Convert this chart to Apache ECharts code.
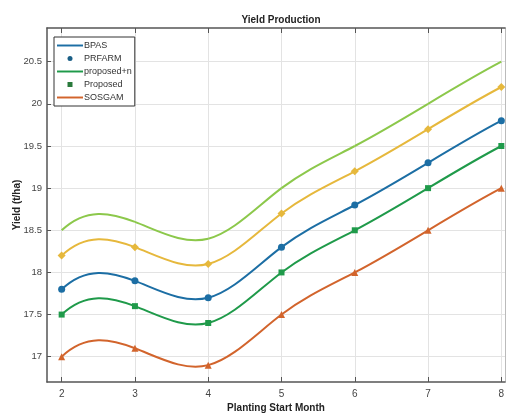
<!DOCTYPE html>
<html>
<head>
<meta charset="utf-8">
<script src="https://cdn.jsdelivr.net/npm/echarts@6/dist/echarts.min.js"></script>
<style>
  html, body { margin: 0; padding: 0; background: #fff; }
  #chart { width: 513px; height: 414px; }
</style>
</head>
<body>
<div id="chart"></div>
<script>
// data
const months = [2, 3, 4, 5, 6, 7, 8];
const bpas = [17.8, 17.9, 17.7, 18.3, 18.8, 19.3, 19.8];
const prfarm = [18.2, 18.3, 18.1, 18.7, 19.2, 19.7, 20.2];
const proposedN = [18.5, 18.6, 18.4, 19.0, 19.5, 20.0, 20.5];
const proposed = [17.5, 17.6, 17.4, 18.0, 18.5, 19.0, 19.5];
const sosgam = [17.0, 17.1, 16.9, 17.5, 18.0, 18.5, 19.0];
const yTicks = [17, 17.5, 18, 18.5, 19, 19.5, 20, 20.5];

const pairs = (ys) => months.map((m, i) => [m, ys[i]]);

// slopes of a not-a-knot cubic spline through (xs, ys), like matlab's spline()
function splineSlopes(xs, ys) {
  const n = xs.length;
  const h = [], d = [];
  for (let i = 0; i < n - 1; i++) {
    h.push(xs[i + 1] - xs[i]);
    d.push((ys[i + 1] - ys[i]) / h[i]);
  }
  // solve for second derivatives M
  const A = [], b = [];
  for (let i = 0; i < n; i++) { A.push(new Array(n).fill(0)); b.push(0); }
  A[0][0] = h[1]; A[0][1] = -(h[0] + h[1]); A[0][2] = h[0];
  for (let i = 1; i < n - 1; i++) {
    A[i][i - 1] = h[i - 1];
    A[i][i] = 2 * (h[i - 1] + h[i]);
    A[i][i + 1] = h[i];
    b[i] = 6 * (d[i] - d[i - 1]);
  }
  A[n - 1][n - 3] = h[n - 2]; A[n - 1][n - 2] = -(h[n - 3] + h[n - 2]); A[n - 1][n - 1] = h[n - 3];
  for (let c = 0; c < n; c++) {
    let p = c;
    for (let r = c + 1; r < n; r++) if (Math.abs(A[r][c]) > Math.abs(A[p][c])) p = r;
    [A[c], A[p]] = [A[p], A[c]]; [b[c], b[p]] = [b[p], b[c]];
    for (let r = c + 1; r < n; r++) {
      const f = A[r][c] / A[c][c];
      for (let k = c; k < n; k++) A[r][k] -= f * A[c][k];
      b[r] -= f * b[c];
    }
  }
  const M = new Array(n).fill(0);
  for (let r = n - 1; r >= 0; r--) {
    let s = b[r];
    for (let k = r + 1; k < n; k++) s -= A[r][k] * M[k];
    M[r] = s / A[r][r];
  }
  const slopes = [];
  for (let i = 0; i < n - 1; i++) slopes.push(d[i] - h[i] * (2 * M[i] + M[i + 1]) / 6);
  slopes.push(d[n - 2] + h[n - 2] * (M[n - 2] + 2 * M[n - 1]) / 6);
  return slopes;
}

const myChart = echarts.init(document.getElementById('chart'));

const lineIcon = 'path://M0,0 L40,0 L40,3 L0,3 Z';
const squareIcon = 'path://M0,0 L5,0 L5,5 L0,5 Z';
const axisGray = '#555';
const font = 'Liberation Sans Narrow, Liberation Sans, Arial';

// smooth curve: each data item draws the bezier piece to the next point
function mkCurve(name, ys, color) {
  const slopes = splineSlopes(months, ys);
  return {
    name: name,
    type: 'custom',
    data: pairs(ys),
    z: 3,
    renderItem: function (params, api) {
      const i = params.dataIndex;
      if (i >= months.length - 1) return null;
      const x0 = api.value(0), y0 = api.value(1);
      const x1 = months[i + 1], y1 = ys[i + 1];
      const h = x1 - x0;
      const p0 = api.coord([x0, y0]);
      const p1 = api.coord([x1, y1]);
      const c0 = api.coord([x0 + h / 3, y0 + slopes[i] * h / 3]);
      const c1 = api.coord([x1 - h / 3, y1 - slopes[i + 1] * h / 3]);
      return {
        type: 'bezierCurve',
        shape: { x1: p0[0], y1: p0[1], x2: p1[0], y2: p1[1], cpx1: c0[0], cpy1: c0[1], cpx2: c1[0], cpy2: c1[1] },
        style: { stroke: color, lineWidth: 2, fill: null }
      };
    }
  };
}

function mkMarks(name, ys, color, symbol, size) {
  return {
    name: name,
    type: 'scatter',
    data: pairs(ys),
    symbol: symbol,
    symbolSize: size,
    itemStyle: { color: color, opacity: 1 },
    z: 4
  };
}

const option = {
  backgroundColor: '#fff',
  animation: false,
  title: {
    text: 'Yield Production',
    left: 276,
    textAlign: 'center',
    top: 10,
    textStyle: { fontSize: 10, fontWeight: 'bold', color: '#222', fontFamily: font }
  },
  grid: { left: 47, right: 8, top: 28, bottom: 32, outerBoundsMode: 'none' },
  legend: {
    orient: 'vertical',
    left: 54,
    top: 37,
    padding: [4, 3, 4, 3],
    itemGap: 4,
    itemWidth: 26,
    itemHeight: 5,
    borderColor: '#333',
    borderWidth: 1,
    backgroundColor: '#fff',
    textStyle: { fontSize: 9, color: '#333', fontFamily: font, padding: [0, 0, 0, -4] },
    data: [
      { name: 'BPAS', icon: lineIcon, itemStyle: { color: '#1c6ea4' } },
      { name: 'PRFARM', icon: 'circle', itemStyle: { color: '#1a5f86' } },
      { name: 'proposed+n', icon: lineIcon, itemStyle: { color: '#1f9a4a' } },
      { name: 'Proposed', icon: squareIcon, itemStyle: { color: '#2a7a3c' } },
      { name: 'SOSGAM', icon: lineIcon, itemStyle: { color: '#d2642c' } }
    ]
  },
  xAxis: [{
    type: 'value',
    min: 1.8,
    max: 8.05,
    name: 'Planting Start Month',
    nameLocation: 'middle',
    nameGap: 21,
    nameMoveOverlap: false,
    nameTextStyle: { fontSize: 10, fontWeight: 'bold', color: '#222', fontFamily: font },
    axisLine: { lineStyle: { color: axisGray, width: 1.5 } },
    axisTick: { inside: true, length: 5, lineStyle: { color: axisGray }, customValues: months },
    axisLabel: { fontSize: 10, color: '#444', fontFamily: font, margin: 7, customValues: months },
    splitLine: { show: true, lineStyle: { color: '#e3e3e3' } }
  }, {
    type: 'value',
    position: 'top',
    min: 1.8,
    max: 8.05,
    axisLine: { lineStyle: { color: axisGray, width: 1.5 } },
    axisTick: { inside: true, length: 5, lineStyle: { color: axisGray }, customValues: months },
    axisLabel: { show: false },
    splitLine: { show: false }
  }],
  yAxis: [{
    type: 'value',
    min: 16.7,
    max: 20.9,
    name: 'Yield (t/ha)',
    nameLocation: 'middle',
    nameGap: 25,
    nameMoveOverlap: false,
    nameTextStyle: { fontSize: 10, fontWeight: 'bold', color: '#222', fontFamily: font },
    axisLine: { show: true, lineStyle: { color: axisGray, width: 1.5 } },
    axisTick: { show: true, inside: true, length: 4, lineStyle: { color: axisGray }, customValues: yTicks },
    axisLabel: { fontSize: 9.5, color: '#444', fontFamily: font, margin: 5, customValues: yTicks },
    splitLine: { show: true, lineStyle: { color: '#e3e3e3' } }
  }, {
    type: 'value',
    position: 'right',
    min: 16.7,
    max: 20.9,
    axisLine: { show: true, lineStyle: { color: '#bbb', width: 1 } },
    axisTick: { show: false },
    axisLabel: { show: false },
    splitLine: { show: false }
  }],
  series: [
    mkCurve('proposed+n', proposedN, '#8cc84b'),
    mkCurve('PRFARM', prfarm, '#e6b83c'),
    mkMarks('PRFARM', prfarm, '#e6b83c', 'diamond', 8),
    mkCurve('BPAS', bpas, '#1c6ea4'),
    mkMarks('BPAS', bpas, '#1c6ea4', 'circle', 7),
    mkCurve('Proposed', proposed, '#1f9a4a'),
    mkMarks('Proposed', proposed, '#1f9a4a', 'rect', 6),
    mkCurve('SOSGAM', sosgam, '#d2642c'),
    mkMarks('SOSGAM', sosgam, '#d2642c', 'triangle', 7)
  ]
};

myChart.setOption(option);
window.addEventListener('resize', function () {
  myChart.resize();
});
</script>
</body>
</html>
